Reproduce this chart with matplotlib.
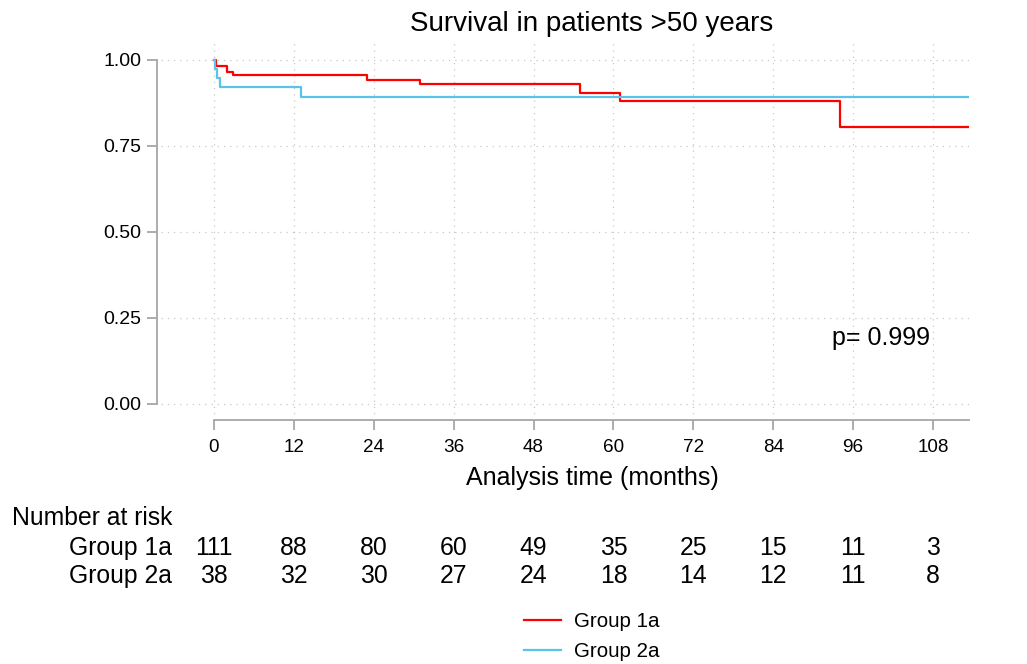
import matplotlib
matplotlib.use("Agg")
import matplotlib.pyplot as plt
import matplotlib.transforms as mtransforms
from matplotlib.lines import Line2D

plt.rcParams['font.family'] = ['Liberation Sans', 'DejaVu Sans']

# Kaplan-Meier step data (months, survival)
group1_time = [0, 0.3, 2.0, 2.9, 23, 31, 55, 61, 94.0, 113.4]
group1_surv = [1.0, 0.982, 0.964, 0.955, 0.943, 0.929, 0.905, 0.880, 0.806, 0.806]
group2_time = [0, 0.15, 0.4, 0.9, 13, 113.4]
group2_surv = [1.0, 0.974, 0.947, 0.921, 0.892, 0.892]

risk_times = [0, 12, 24, 36, 48, 60, 72, 84, 96, 108]
risk_group1 = [111, 88, 80, 60, 49, 35, 25, 15, 11, 3]
risk_group2 = [38, 32, 30, 27, 24, 18, 14, 12, 11, 8]
group_labels = ["Group 1a", "Group 2a"]
y_ticks = [0, 0.25, 0.5, 0.75, 1.0]
p_text = "p= 0.999"

W, H = 1027, 664
fig = plt.figure(figsize=(W / 100, H / 100), dpi=100)
# axes box in pixels: left 157, right 969, top 42, bottom 420
ax = fig.add_axes([157 / W, 1 - 420 / H, (969 - 157) / W, (420 - 42) / H])

red = "#ff0000"
blue = "#5bc2ec"
axis_gray = "#a6a6a6"

ax.step(group1_time, group1_surv, where='post', color=red, lw=1.6, zorder=3)
ax.step(group2_time, group2_surv, where='post', color=blue, lw=1.6, zorder=3)

ax.set_xlim(-8.56, 113.4)
ax.set_ylim(-0.0465, 1.052)
ax.set_xticks(risk_times)
ax.set_yticks(y_ticks)
ax.set_yticklabels(["%.2f" % v for v in y_ticks])

for s in ['top', 'right']:
    ax.spines[s].set_visible(False)
ax.spines['left'].set_bounds(0, 1)
ax.spines['bottom'].set_bounds(0, 113.4)
for s in ['left', 'bottom']:
    ax.spines[s].set_color(axis_gray)
    ax.spines[s].set_linewidth(1.3)
ax.tick_params(axis='both', colors=axis_gray, labelcolor='black', length=7,
               width=1.3)
ax.tick_params(axis='x', pad=7, labelsize=13.6)
ax.tick_params(axis='y', pad=4, labelsize=14)

# dotted grid
for t in risk_times:
    ax.axvline(t, color='#c8c8c8', lw=0.9, ls=(0, (1, 4)), zorder=1)
for v in y_ticks:
    ax.plot([-8.0, 113.4], [v, v], color='#c8c8c8', lw=0.9, ls=(0, (1, 4)), zorder=1)

ax.set_xlabel("Analysis time (months)", fontsize=18, labelpad=7)
ax.xaxis.label.set_x((592 - 157) / (969 - 157))
ax.text(92.8, 0.192, p_text, fontsize=18, ha='left', va='center')

fig.text(592 / W, 1 - 24 / H, "Survival in patients >50 years", fontsize=20,
         ha='center', va='center')

# number at risk table
trans = mtransforms.blended_transform_factory(ax.transData, fig.transFigure)
fig.text(12 / W, 1 - 518 / H, "Number at risk", fontsize=17.8, ha='left', va='center')
for row_y, label, counts in [(548, group_labels[0], risk_group1),
                             (576, group_labels[1], risk_group2)]:
    fig.text(172 / W, 1 - row_y / H, label, fontsize=17.8, ha='right', va='center')
    for t, n in zip(risk_times, counts):
        ax.text(t, 1 - row_y / H, str(n), transform=trans, fontsize=17.8,
                ha='center', va='center')

handles = [Line2D([], [], color=red, lw=1.6), Line2D([], [], color=blue, lw=1.6)]
fig.legend(handles, group_labels, loc='center', bbox_to_anchor=(592 / W, 1 - 636.5 / H),
           frameon=False, fontsize=14.8, handlelength=1.8, handletextpad=0.63,
           labelspacing=0.52)

fig.savefig("out.png", dpi=100)
